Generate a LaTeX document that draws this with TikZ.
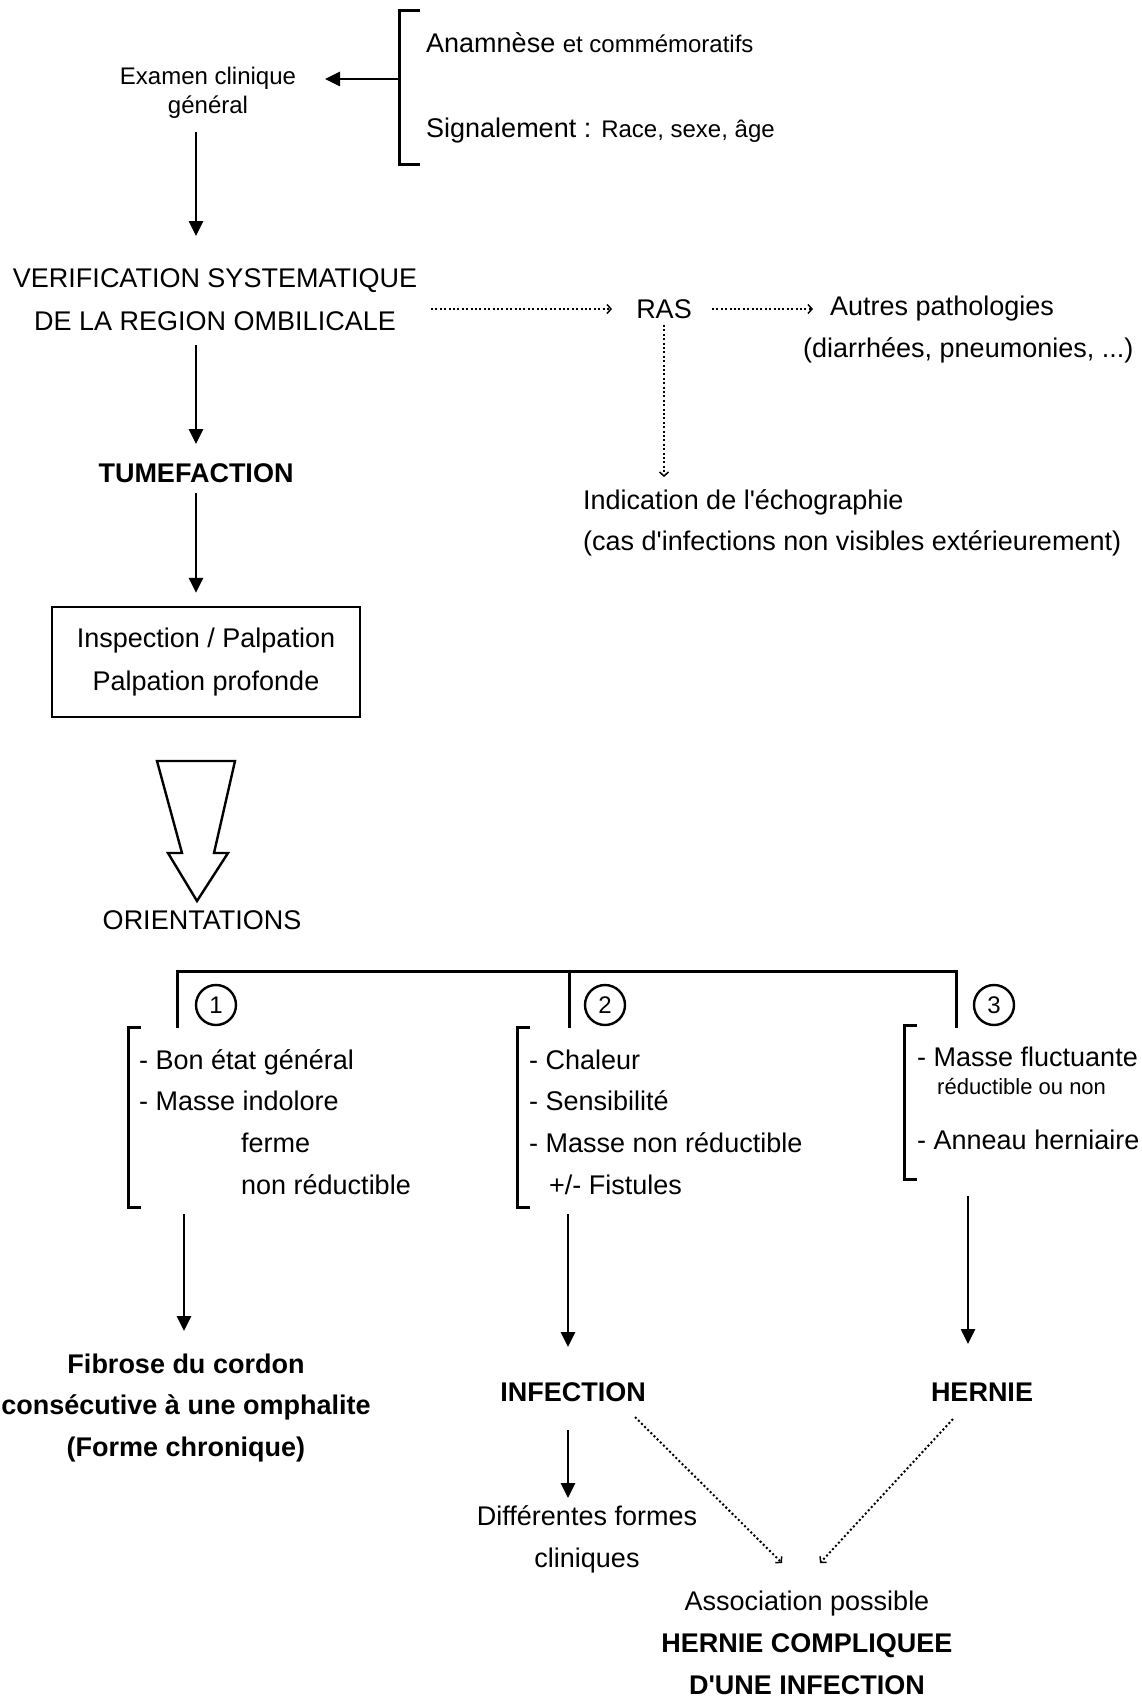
\documentclass[tikz,border=0pt]{standalone}
\usepackage{fontspec}
\setmainfont{Liberation Sans}[Ligatures=TeXOff]
\usetikzlibrary{arrows.meta}
\newcommand\myfs[2]{\fontsize{#1}{#2}\selectfont}
\begin{document}
\begin{tikzpicture}[x={(1pt,0pt)}, y={(0pt,-1pt)},
  one/.style={inner sep=0pt, text height=19.5pt, text depth=0pt, font=\myfs{27}{32}},
  onebold/.style={one, font=\myfs{27}{32}\bfseries},
  multi/.style={inner sep=0pt, align=center, font=\myfs{27}{42}},
  arr/.style={line width=2.6pt, -{Triangle[length=15pt,width=14pt]}},
  dotarr/.style={line width=2pt, dash pattern=on 2pt off 2.4pt, -{Straight Barb[length=4pt,width=9pt,line width=1.5pt]}},
  brk/.style={line width=3pt},
  num/.style={circle, draw, line width=2.4pt, minimum size=40pt, inner sep=0pt, font=\myfs{24}{24}},
]
\fill[white] (0,0) rectangle (1142,1699);
\useasboundingbox (0,0) rectangle (1142,1699);

% ---- top section
\node[multi, font=\myfs{24}{29}] (exam) at (208,93) {Examen clinique\\général};
\node[one, anchor=west] (anam) at (426,43) {Anamnèse {\myfs{24}{29}et commémoratifs}};
\node[one, anchor=west] (sig) at (426,128) {Signalement : {\myfs{24}{29}Race, sexe, âge}};
\draw[brk] (420,11) -- (399,11) -- (399,165) -- (420,165);
\coordinate (bm) at (399,79);
\draw[arr, shorten >=117pt] (bm) -- (exam.center |- bm);

\node[multi, font=\myfs{27}{43}] (verif) at (215,300) {VERIFICATION SYSTEMATIQUE\\DE LA REGION OMBILICALE};
\node[one] (ras) at (664,309) {RAS};
\node[one, anchor=west] (autres) at (830,306) {Autres pathologies};
\node[one, anchor=west] (autres2) at (803,348) {(diarrhées, pneumonies, ...)};
\node[one, anchor=west] (indic) at (583,500) {Indication de l'échographie};
\node[one, anchor=west] (indic2) at (583,541) {(cas d'infections non visibles extérieurement)};
\node[onebold] (tumef) at (196,473) {TUMEFACTION};
\node[draw, line width=2.4pt, minimum width=308pt, minimum height=110pt, align=center, font=\myfs{27}{43}, inner sep=0pt] (box) at (206,662) {Inspection / Palpation\\Palpation profonde};
\node[one] (orient) at (202,920) {ORIENTATIONS};

\draw[arr, shorten <=39pt, shorten >=64pt] (exam.center -| tumef.center) -- (verif.center -| tumef.center);
\draw[dotarr, shorten <=216pt, shorten >=52pt] (verif.center |- ras.center) -- (ras.center);
\draw[dotarr, shorten <=48pt, shorten >=17pt] (ras.center) -- (autres.west |- ras.center);
\draw[dotarr, shorten <=16pt, shorten >=23pt] (ras.center) -- (ras.center |- indic.west);
\draw[arr, shorten <=45pt, shorten >=29pt] (verif.center -| tumef.center) -- (tumef.center);
\draw[arr, shorten <=20pt, shorten >=13pt] (tumef.center) -- (tumef.center |- box.north);

% hollow arrow
\draw[line width=2.4pt, line join=miter] (157,761) -- (235,761) -- (214,853) -- (228,853) -- (197,901) -- (168,853) -- (182,853) -- cycle;

% ---- branches
\draw[brk] (177,1028) -- (177,971) -- (956,971) -- (956,1028);
\draw[brk] (569,971) -- (569,1028);
\node[num] (c1) at (216,1005) {1};
\node[num] (c2) at (605,1005) {2};
\node[num] (c3) at (994,1005) {3};

\draw[brk] (141,1027) -- (128,1027) -- (128,1207) -- (141,1207);
\draw[brk] (530,1027) -- (517,1027) -- (517,1207) -- (530,1207);
\draw[brk] (917,1025) -- (904,1025) -- (904,1179) -- (917,1179);

\node[one, anchor=west] (a1) at (139,1060) {- Bon état général};
\node[one, anchor=west] (a2) at (139,1101) {- Masse indolore};
\node[one, anchor=west] (a3) at (241,1143) {ferme};
\node[one, anchor=west] (a4) at (241,1185) {non réductible};

\node[one, anchor=west] (b1t) at (529,1060) {- Chaleur};
\node[one, anchor=west] (b2t) at (529,1101) {- Sensibilité};
\node[one, anchor=west] (b3t) at (529,1143) {- Masse non réductible};
\node[one, anchor=west] (b4t) at (549,1185) {+/- Fistules};

\node[one, anchor=west] (c1t) at (917,1057) {- Masse fluctuante};
\node[one, anchor=west, font=\myfs{22}{26}, text height=16pt] (c2t) at (937,1086) {réductible ou non};
\node[one, anchor=west] (c3t) at (917,1140) {- Anneau herniaire};

% ---- outcomes
\node[multi, font=\myfs{27}{41.5}\bfseries] (fib) at (186,1408) {Fibrose du cordon\\consécutive à une omphalite\\(Forme chronique)};
\node[onebold] (inf) at (573,1392) {INFECTION};
\node[onebold] (her) at (982,1392) {HERNIE};
\node[multi] (diff) at (587,1539) {Différentes formes\\cliniques};
\node[multi] (assoc) at (807,1643) {Association possible\\\textbf{HERNIE COMPLIQUEE}\\\textbf{D'UNE INFECTION}};

\coordinate (k1) at (184,1214);
\coordinate (k2) at (568,1214);
\coordinate (k3) at (968,1196);
\draw[arr, shorten >=77pt] (k1) -- (k1 |- fib.center);
\draw[arr, shorten >=45pt] (k2) -- (k2 |- inf.center);
\draw[arr, shorten >=48pt] (k3) -- (k3 |- her.center);
\draw[arr, shorten <=38pt, shorten >=41pt] (k2 |- inf.center) -- (k2 |- diff.center);
\coordinate (j1) at (782,1563);
\coordinate (j2) at (820,1563);
\draw[dotarr] ([shift={(62,25)}]inf.center) -- (j1);
\draw[dotarr] ([shift={(-29,27)}]her.center) -- (j2);
\end{tikzpicture}
\end{document}
